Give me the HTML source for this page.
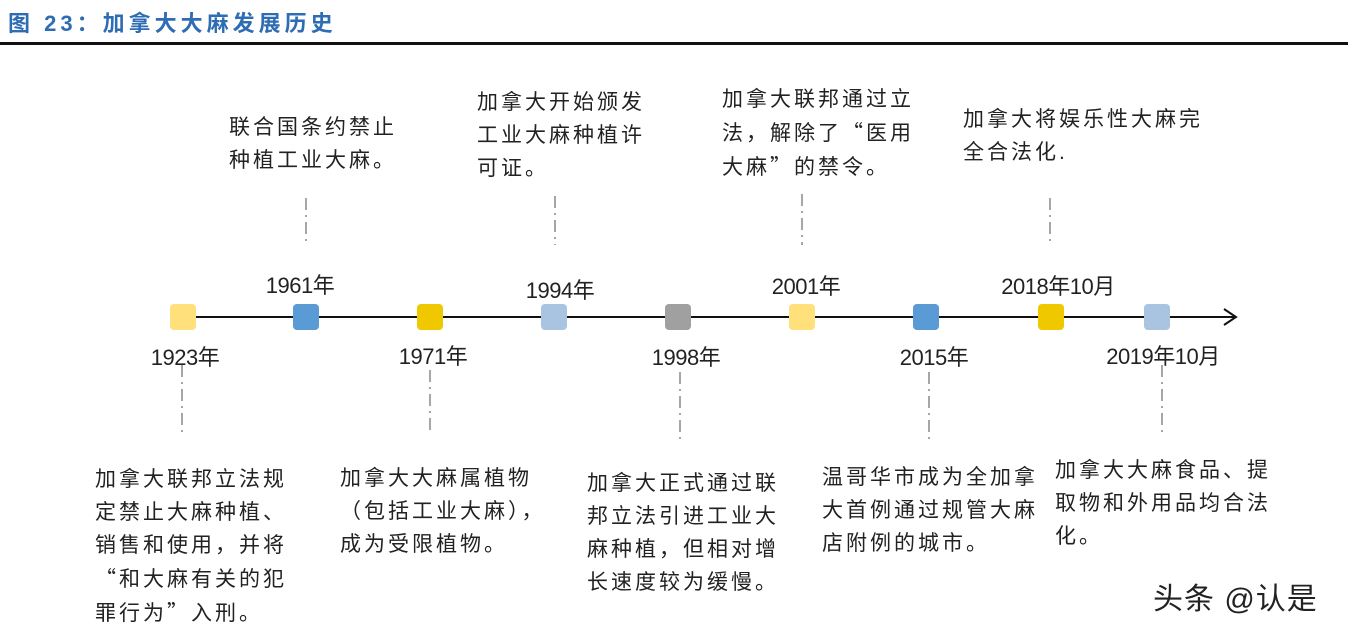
<!DOCTYPE html>
<html><head><meta charset="utf-8"><style>
body{margin:0;width:1348px;height:629px;background:#fff;overflow:hidden;position:relative;font-family:"Liberation Sans","Noto Sans CJK SC",sans-serif}
.t{position:absolute;font-size:21px;letter-spacing:3px;line-height:33px;color:#222;white-space:nowrap}
.q{font-family:"Noto Sans CJK SC",sans-serif}
.y{position:absolute;font-size:22px;color:#222;white-space:nowrap;transform:translateX(-50%);letter-spacing:-0.5px}
</style></head><body>
<div style="position:absolute;left:8px;top:6px;font-size:22px;font-weight:bold;color:#2E6DB4;letter-spacing:4px">图 23：加拿大大麻发展历史</div>
<div style="position:absolute;left:0;top:42px;width:1348px;height:3px;background:#111"></div>
<svg width="1348" height="629" style="position:absolute;left:0;top:0">
<line x1="183" y1="317" x2="1235" y2="317" stroke="#111" stroke-width="2"/>
<polyline points="1224,309 1236,317 1224,325" fill="none" stroke="#111" stroke-width="2"/>
<g stroke="#777" stroke-width="1.3" stroke-dasharray="12,5,2,5">
<line x1="306" y1="198" x2="306" y2="245"/>
<line x1="555" y1="196" x2="555" y2="245"/>
<line x1="802" y1="194" x2="802" y2="245"/>
<line x1="1050" y1="198" x2="1050" y2="245"/>
<line x1="182" y1="365" x2="182" y2="435"/>
<line x1="430" y1="370" x2="430" y2="435"/>
<line x1="680" y1="372" x2="680" y2="442"/>
<line x1="929" y1="372" x2="929" y2="442"/>
<line x1="1162" y1="365" x2="1162" y2="435"/>
</g>
<g>
<rect x="170" y="304" width="26" height="26" rx="4" fill="#FFE07A"/>
<rect x="293" y="304" width="26" height="26" rx="4" fill="#5B9BD5"/>
<rect x="417" y="304" width="26" height="26" rx="4" fill="#F0C800"/>
<rect x="541" y="304" width="26" height="26" rx="4" fill="#A9C4E0"/>
<rect x="665" y="304" width="26" height="26" rx="4" fill="#A0A0A0"/>
<rect x="789" y="304" width="26" height="26" rx="4" fill="#FFE07A"/>
<rect x="913" y="304" width="26" height="26" rx="4" fill="#5B9BD5"/>
<rect x="1038" y="304" width="26" height="26" rx="4" fill="#F0C800"/>
<rect x="1144" y="304" width="26" height="26" rx="4" fill="#A9C4E0"/>
</g>
</svg>
<div class="y" style="left:300px;top:268px">1961年</div>
<div class="y" style="left:185px;top:340px">1923年</div>
<div class="y" style="left:433px;top:339px">1971年</div>
<div class="y" style="left:560px;top:273px">1994年</div>
<div class="y" style="left:686px;top:340px">1998年</div>
<div class="y" style="left:806px;top:269px">2001年</div>
<div class="y" style="left:934px;top:340px">2015年</div>
<div class="y" style="left:1058px;top:269px">2018年10月</div>
<div class="y" style="left:1163px;top:339px">2019年10月</div>
<div class="t" style="left:229px;top:111px">联合国条约禁止<br>种植工业大麻。</div>
<div class="t" style="left:477px;top:86px">加拿大开始颁发<br>工业大麻种植许<br>可证。</div>
<div class="t" style="left:722px;top:83px">加拿大联邦通过立<br>法，解除了<span class="q">“</span>医用<br>大麻<span class="q">”</span>的禁令。</div>
<div class="t" style="left:963px;top:103px">加拿大将娱乐性大麻完<br>全合法化.</div>
<div class="t" style="left:95px;top:463px">加拿大联邦立法规<br>定禁止大麻种植、<br>销售和使用，并将<br><span class="q">“</span>和大麻有关的犯<br>罪行为<span class="q">”</span>入刑。</div>
<div class="t" style="left:340px;top:462px">加拿大大麻属植物<br>（包括工业大麻），<br>成为受限植物。</div>
<div class="t" style="left:587px;top:467px">加拿大正式通过联<br>邦立法引进工业大<br>麻种植，但相对增<br>长速度较为缓慢。</div>
<div class="t" style="left:822px;top:461px">温哥华市成为全加拿<br>大首例通过规管大麻<br>店附例的城市。</div>
<div class="t" style="left:1055px;top:454px">加拿大大麻食品、提<br>取物和外用品均合法<br>化。</div>
<div style="position:absolute;left:1153px;top:574px;font-size:30px;color:#222;white-space:nowrap;letter-spacing:1px">头条 @认是</div>
</body></html>
